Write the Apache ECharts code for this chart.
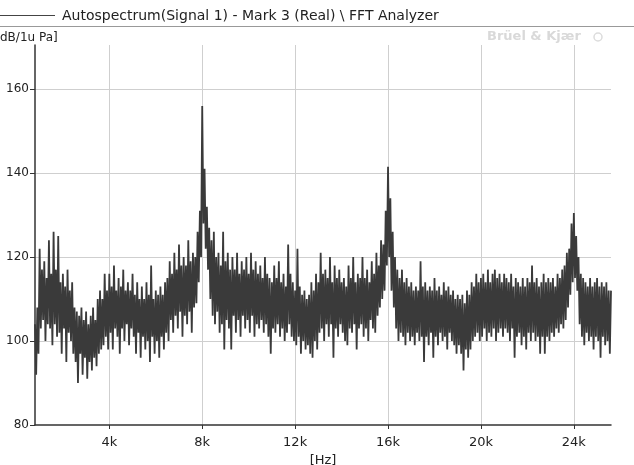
<!DOCTYPE html>
<html>
<head>
<meta charset="utf-8">
<script src="https://cdn.jsdelivr.net/npm/echarts@6/dist/echarts.min.js"></script>
<style>
  html, body { margin: 0; padding: 0; background: #fff; }
  #chart { width: 634px; height: 465px; }
</style>
</head>
<body>
<div id="chart"></div>
<script>
// spectrum lines, 50 Hz apart, starting at 800 Hz
const startHz = 800;
const binHz = 50;

// levels in dB, one array per 4k band
const band0k8to3k9 = [104, 92, 108, 97, 122, 103, 117, 105, 119, 100, 115, 104, 124, 103, 116, 99,
  126, 104, 117, 101, 125, 102, 114, 97, 116, 103, 113, 95, 117, 102, 112, 100,
  114, 97, 108, 95, 107, 90, 106, 97, 108, 92, 105, 96, 107, 91, 104, 95,
  106, 93, 108, 96, 105, 94, 110, 97, 112, 98, 110, 99, 116, 101, 112, 98];
const band4kto7k9 = [116, 102, 113, 98, 118, 103, 112, 101, 115, 97, 113, 103, 117, 100, 112, 104,
  114, 99, 112, 103, 116, 101, 111, 97, 114, 102, 110, 96, 113, 101, 110, 98,
  114, 100, 111, 95, 118, 101, 110, 97, 112, 100, 111, 96, 113, 101, 111, 98,
  114, 102, 115, 100, 119, 105, 116, 102, 121, 106, 117, 103, 123, 107, 118, 101,
  120, 106, 118, 104, 124, 107, 119, 102, 121, 108, 120, 109, 126, 114, 131, 120];
const band8kto11k9 = [156, 128, 141, 122, 132, 117, 127, 110, 124, 106, 126, 104, 120, 107, 121, 102,
  118, 104, 126, 98, 119, 105, 121, 103, 117, 98, 120, 106, 117, 102, 121, 105,
  116, 101, 119, 106, 117, 103, 120, 105, 116, 102, 121, 106, 117, 101, 119, 104,
  116, 103, 118, 105, 115, 102, 120, 104, 116, 101, 115, 97, 114, 103, 118, 102,
  115, 104, 119, 101, 114, 103, 116, 100, 113, 102, 123, 104, 116, 101, 114, 100];
const band12kto15k9 = [112, 99, 122, 101, 113, 97, 111, 100, 112, 98, 110, 99, 111, 97, 114, 96,
  112, 100, 116, 98, 114, 102, 121, 103, 116, 100, 117, 104, 115, 101, 120, 104,
  114, 96, 118, 103, 115, 101, 117, 104, 114, 102, 115, 100, 113, 99, 118, 103,
  115, 102, 120, 104, 114, 98, 116, 103, 115, 104, 120, 101, 115, 103, 117, 100,
  114, 105, 119, 103, 116, 102, 121, 106, 118, 108, 124, 110, 123, 112, 131, 118];
const band16kto19k9 = [141.5, 120, 134, 112, 126, 108, 120, 103, 117, 100, 115, 102, 117, 101, 114, 99,
  115, 102, 113, 100, 114, 101, 112, 99, 113, 102, 112, 100, 119, 101, 113, 95,
  114, 101, 112, 99, 113, 102, 112, 96, 115, 101, 112, 99, 113, 102, 111, 100,
  114, 101, 112, 98, 113, 102, 111, 100, 112, 99, 110, 97, 111, 99, 110, 97,
  111, 93, 109, 98, 112, 96, 111, 98, 114, 100, 113, 101, 116, 102, 114, 100];
const band20kto23k9 = [115, 101, 116, 103, 114, 100, 117, 102, 114, 101, 116, 103, 117, 100, 115, 102,
  116, 103, 114, 101, 116, 103, 115, 102, 114, 100, 116, 103, 113, 96, 115, 101,
  114, 102, 113, 99, 115, 101, 113, 98, 115, 102, 114, 100, 118, 102, 114, 100,
  115, 101, 113, 97, 114, 101, 116, 97, 114, 101, 115, 100, 114, 102, 115, 101,
  113, 103, 116, 102, 115, 104, 117, 103, 118, 105, 121, 108, 122, 111, 128, 114];
const band24kto25k6 = [130.5, 115, 125, 112, 120, 104, 116, 101, 115, 99, 114, 102, 113, 100, 115, 101,
  113, 98, 114, 101, 115, 100, 113, 96, 114, 101, 113, 99, 114, 100, 112, 97, 112];

const xTicks = [4000, 8000, 12000, 16000, 20000, 24000];

const levels = [].concat(band0k8to3k9, band4kto7k9, band8kto11k9, band12kto15k9,
  band16kto19k9, band20kto23k9, band24kto25k6);
const spectrum = levels.map((v, i) => [startHz + i * binHz, v]);

const FONT = 'DejaVu Sans';
const chart = echarts.init(document.getElementById('chart'), null, { renderer: 'canvas' });

const option = {
  animation: false,
  backgroundColor: '#fff',
  textStyle: { fontFamily: FONT },
  grid: { left: 35, right: 23, top: 45, bottom: 40, outerBoundsMode: 'none', containLabel: false },
  graphic: [
    // legend line + title
    { type: 'line', shape: { x1: 0, y1: 15.5, x2: 55, y2: 15.5 }, style: { stroke: '#444', lineWidth: 1 } },
    { type: 'text', left: 62, top: 9, style: { text: 'Autospectrum(Signal 1) - Mark 3 (Real) \\ FFT Analyzer',
      font: '14px "DejaVu Sans"', fill: '#222' } },
    { type: 'line', shape: { x1: 0, y1: 26.5, x2: 634, y2: 26.5 }, style: { stroke: '#999', lineWidth: 1 } },
    { type: 'text', left: 0, top: 32, style: { text: 'dB/1u Pa]', font: '12px "DejaVu Sans"', fill: '#222' } },
    { type: 'text', left: 487, top: 30, style: { text: 'Brüel & Kjær', font: 'bold 13px "DejaVu Sans"', fill: '#d9d9d9' } },
    { type: 'circle', shape: { cx: 598, cy: 37, r: 4 }, style: { fill: 'none', stroke: '#dcdcdc', lineWidth: 1.5 } }
  ],
  xAxis: {
    type: 'value',
    min: 800,
    max: 25600,
    name: '[Hz]',
    nameLocation: 'middle',
    nameGap: 29,
    nameTextStyle: { color: '#222', fontSize: 13, fontFamily: FONT },
    axisLine: { lineStyle: { color: '#333', width: 1.5 } },
    axisTick: { show: true, length: 4, customValues: xTicks, lineStyle: { color: '#333' } },
    axisLabel: { customValues: xTicks, color: '#222', fontSize: 13, margin: 11, fontFamily: FONT,
      formatter: v => (v / 1000) + 'k' },
    splitLine: { show: true, lineStyle: { color: '#cfcfcf', width: 1 } }
  },
  yAxis: {
    type: 'value',
    min: 80,
    max: 170.5,
    interval: 20,
    axisLine: { show: true, lineStyle: { color: '#333', width: 1.5 } },
    axisTick: { show: true, length: 5, lineStyle: { color: '#333' } },
    axisLabel: { color: '#222', fontSize: 12, margin: 6, showMaxLabel: false, fontFamily: FONT },
    splitLine: { show: true, showMinLine: false, showMaxLine: false, lineStyle: { color: '#cfcfcf', width: 1 } }
  },
  series: [
    {
      name: 'Autospectrum(Signal 1)',
      type: 'line',
      data: spectrum,
      symbol: 'none',
      lineStyle: { color: '#3a3a3a', width: 1.8 },
      silent: true
    }
  ]
};

chart.setOption(option);
</script>
</body>
</html>
